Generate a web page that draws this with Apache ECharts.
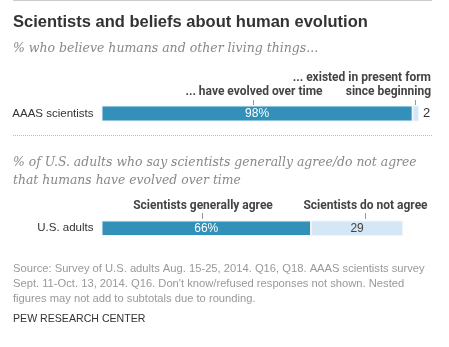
<!DOCTYPE html>
<html>
<head>
<meta charset="utf-8">
<script src="https://cdn.jsdelivr.net/npm/echarts@6/dist/echarts.min.js"></script>
<style>
  html, body { margin: 0; padding: 0; background: #fff; }
  #chart { width: 449px; height: 347px; }
</style>
</head>
<body>
<div id="chart"></div>
<script>
// data
var groups = ['AAAS scientists', 'U.S. adults'];
var agreeValues = [98, 66];
var otherValues = [2, 29];
var agreeHeads = ['... have evolved over time', 'Scientists generally agree'];
var otherHeads = ['... existed in present form\nsince beginning', 'Scientists do not agree'];

var sans = 'Roboto, "Liberation Sans", sans-serif';
var plain = '"Liberation Sans", Arial, sans-serif';
var serif = '"DejaVu Serif", Georgia, serif';
var dark = '#3390b8';
var light = '#d5e6f4';

var myChart = echarts.init(document.getElementById('chart'));

function grid(top, h) {
  return { left: 101.5, width: 317.5, top: top, height: h, containLabel: false };
}

function xAx(i) {
  return { gridIndex: i, type: 'value', min: 0, max: 100, show: false };
}

function yAx(i) {
  return {
    gridIndex: i, type: 'category', data: [groups[i]],
    axisLine: { show: false }, axisTick: { show: false },
    axisLabel: { margin: 8, color: '#333', fontSize: 11.5, fontFamily: plain }
  };
}

function barSeries(i, values, color, label) {
  return {
    type: 'bar', xAxisIndex: i, yAxisIndex: i, stack: 's' + i,
    barWidth: '100%', silent: true,
    itemStyle: { color: color, borderColor: '#eef5fb', borderWidth: 1 },
    label: label,
    data: [values[i]]
  };
}

var option = {
  animation: false,
  grid: [grid(105.5, 16), grid(220.5, 15.5)],
  xAxis: [xAx(0), xAx(1)],
  yAxis: [yAx(0), yAx(1)],
  series: [
    barSeries(0, agreeValues, dark, { show: true, position: 'inside', color: '#fff', fontSize: 12, fontFamily: plain, formatter: '{c}%' }),
    barSeries(0, otherValues, light, { show: true, position: 'right', distance: 4, color: '#333', fontSize: 13, fontFamily: plain, formatter: '{c}' }),
    barSeries(1, agreeValues, dark, { show: true, position: 'inside', color: '#fff', fontSize: 12, fontFamily: plain, formatter: '{c}%' }),
    barSeries(1, otherValues, light, { show: true, position: 'inside', color: '#444', fontSize: 12, fontFamily: plain, formatter: '{c}' })
  ],
  graphic: [
    { type: 'line', shape: { x1: 13, y1: 0.5, x2: 432, y2: 0.5 }, style: { stroke: '#ccc', lineWidth: 1 } },
    { type: 'text', left: 13, top: 14, style: { text: 'Scientists and beliefs about human evolution', fill: '#333', font: 'bold 16.5px ' + plain } },
    { type: 'text', left: 13, top: 42, style: { text: '% who believe humans and other living things...', fill: '#888', font: 'italic 12.5px ' + serif } },

    { type: 'text', x: 254, y: 92, style: { text: agreeHeads[0], fill: '#444', font: 'bold 12px ' + sans, align: 'center', verticalAlign: 'middle' } },
    { type: 'text', x: 431, y: 85, style: { text: otherHeads[0], fill: '#444', font: 'bold 12px ' + sans, align: 'right', verticalAlign: 'middle', lineHeight: 14 } },
    { type: 'line', shape: { x1: 253.5, y1: 100, x2: 253.5, y2: 105 }, style: { stroke: '#999', lineWidth: 1 } },
    { type: 'line', shape: { x1: 415.5, y1: 100, x2: 415.5, y2: 105 }, style: { stroke: '#999', lineWidth: 1 } },

    { type: 'line', shape: { x1: 13, y1: 135.5, x2: 432, y2: 135.5 }, style: { stroke: '#bbb', lineWidth: 1, lineDash: [1, 1] } },
    { type: 'text', left: 13, top: 154, style: { text: '% of U.S. adults who say scientists generally agree/do not agree\nthat humans have evolved over time', fill: '#888', font: 'italic 12.4px ' + serif, lineHeight: 18 } },

    { type: 'text', x: 203, y: 206, style: { text: agreeHeads[1], fill: '#444', font: 'bold 12px ' + sans, align: 'center', verticalAlign: 'middle' } },
    { type: 'text', x: 365.5, y: 206, style: { text: otherHeads[1], fill: '#444', font: 'bold 12px ' + sans, align: 'center', verticalAlign: 'middle' } },
    { type: 'line', shape: { x1: 202.5, y1: 213, x2: 202.5, y2: 219 }, style: { stroke: '#999', lineWidth: 1 } },
    { type: 'line', shape: { x1: 365.5, y1: 213, x2: 365.5, y2: 219 }, style: { stroke: '#999', lineWidth: 1 } },

    { type: 'text', left: 13, top: 261, style: { text: 'Source: Survey of U.S. adults Aug. 15-25, 2014. Q16, Q18. AAAS scientists survey\nSept. 11-Oct. 13, 2014. Q16. Don\'t know/refused responses not shown. Nested\nfigures may not add to subtotals due to rounding.', fill: '#999', font: '11.2px ' + plain, lineHeight: 15 } },
    { type: 'text', left: 13, top: 314, style: { text: 'PEW RESEARCH CENTER', fill: '#333', font: '10.6px ' + plain } }
  ]
};

myChart.setOption(option);
window.addEventListener('resize', function () {
  myChart.resize();
});
</script>
</body>
</html>
